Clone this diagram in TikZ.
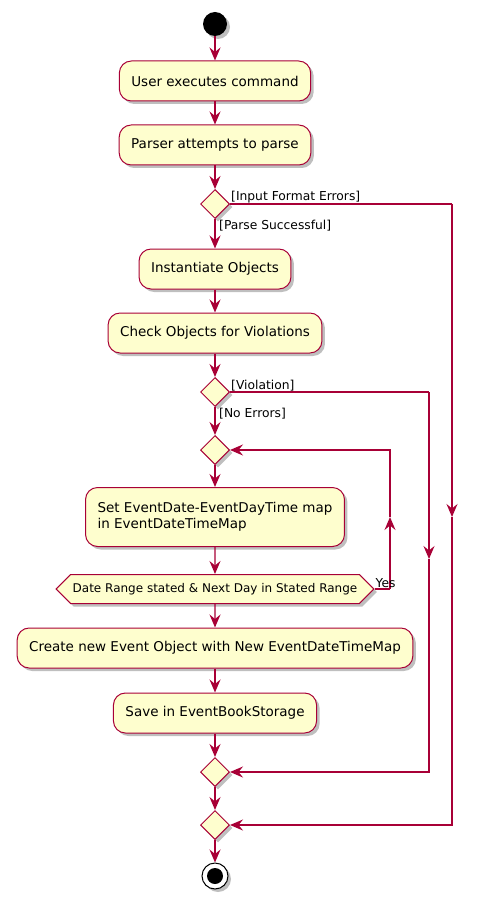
\documentclass[tikz,border=0pt]{standalone}
\usepackage{fontspec}
\setmainfont{DejaVu Sans}
\definecolor{umlred}{RGB}{168, 0, 54}
\definecolor{umlfill}{RGB}{254, 254, 206}
\usetikzlibrary{arrows.meta,shapes.geometric,shapes.symbols,shadows}

\begin{document}
\begin{tikzpicture}[x=1pt,y=-1pt,
    umlshadow/.style={drop shadow={shadow xshift=3pt,shadow yshift=-3pt,opacity=0.25,fill=black}},
    action/.style={draw=umlred,fill=umlfill,line width=1pt,rounded corners=12pt,minimum height=40pt,inner xsep=12pt,font=\fontsize{13.5}{16}\selectfont,umlshadow},
    branch/.style={diamond,draw=umlred,fill=umlfill,line width=1pt,minimum width=29pt,minimum height=29pt,inner sep=0pt,umlshadow},
    hexbox/.style={signal,signal to=west and east,signal pointer angle=90,draw=umlred,fill=umlfill,line width=1pt,minimum height=29pt,inner xsep=2pt,font=\fontsize{12}{14}\selectfont,umlshadow},
    umlline/.style={draw=umlred,line width=1.3pt},
    flow/.style={umlline,-{Stealth[length=13pt,width=11pt,inset=4.5pt,fill=umlred]}},
    guard/.style={font=\fontsize{12.3}{14}\selectfont,inner sep=1pt}
  ]
  \useasboundingbox (0,0) rectangle (481,901);

  % main column
  \node[circle,fill=black,minimum size=24pt,inner sep=0pt,umlshadow] (start) at (215,24) {};
  \node[action] (user) at (215,81) {User executes command};
  \node[action] (parse) at (215,145) {Parser attempts to parse};
  \node[branch] (d1) at (215,204) {};
  \node[action] (inst) at (215,269) {Instantiate Objects};
  \node[action] (check) at (215,333) {Check Objects for Violations};
  \node[branch] (d2) at (215,392) {};
  \node[branch] (d3) at (215,450) {};
  \node[action,minimum height=59pt,align=left] (setmap) at (215,517) {Set EventDate-EventDayTime map\\in EventDateTimeMap};
  \node[hexbox] (range) at (215,589) {Date Range stated \& Next Day in Stated Range};
  \node[action] (create) at (215,648) {Create new Event Object with New EventDateTimeMap};
  \node[action] (save) at (215,713) {Save in EventBookStorage};
  \node[branch] (d4) at (215,772) {};
  \node[branch] (d5) at (215,825) {};
  \node[circle,draw=black,fill=white,line width=1pt,minimum size=26pt,inner sep=0pt,umlshadow] (stop) at (215,876) {};
  \fill[black] (stop.center) circle (8);

  % flow arrows
  \draw[flow] (start) -- (user);
  \draw[flow] (user) -- (parse);
  \draw[flow] (parse) -- (d1);
  \draw[flow] (d1) -- (inst);
  \draw[flow] (inst) -- (check);
  \draw[flow] (check) -- (d2);
  \draw[flow] (d2) -- (d3);
  \draw[flow] (d3) -- (setmap);
  \draw[flow] (setmap) -- (range);
  \draw[flow] (range) -- (create);
  \draw[flow] (create) -- (save);
  \draw[flow] (save) -- (d4);
  \draw[flow] (d4) -- (d5);
  \draw[flow] (d5) -- (stop);

  % side branches and loop
  \coordinate (errmid) at (452,517);
  \coordinate (errtop) at (d1.east -| errmid);
  \coordinate (violmid) at (429,559);
  \coordinate (violtop) at (d2.east -| violmid);
  \coordinate (loopmid) at (390,517);
  \coordinate (loopbot) at (range.east -| loopmid);
  \draw[umlline] (d1.east) -- (errtop);
  \draw[flow] (errtop) -- (errmid);
  \draw[flow] (errmid) |- (d5.east);
  \draw[umlline] (d2.east) -- (violtop);
  \draw[flow] (violtop) -- (violmid);
  \draw[flow] (violmid) |- (d4.east);
  \draw[umlline] (range.east) -- (loopbot);
  \draw[flow] (loopbot) -- (loopmid);
  \draw[flow] (loopmid) |- (d3.east);

  % guards
  \node[guard,anchor=south west] (lblerr) at (d1.east) {[Input Format Errors]};
  \node[guard,anchor=north west] (lblok) at ([xshift=3pt]d1.south) {[Parse Successful]};
  \node[guard,anchor=south west] (lblviol) at (d2.east) {[Violation]};
  \node[guard,anchor=north west] (lblnoerr) at ([xshift=3pt]d2.south) {[No Errors]};
  \node[guard,anchor=south west] (lblyes) at (range.east) {Yes};
\end{tikzpicture}
\end{document}
